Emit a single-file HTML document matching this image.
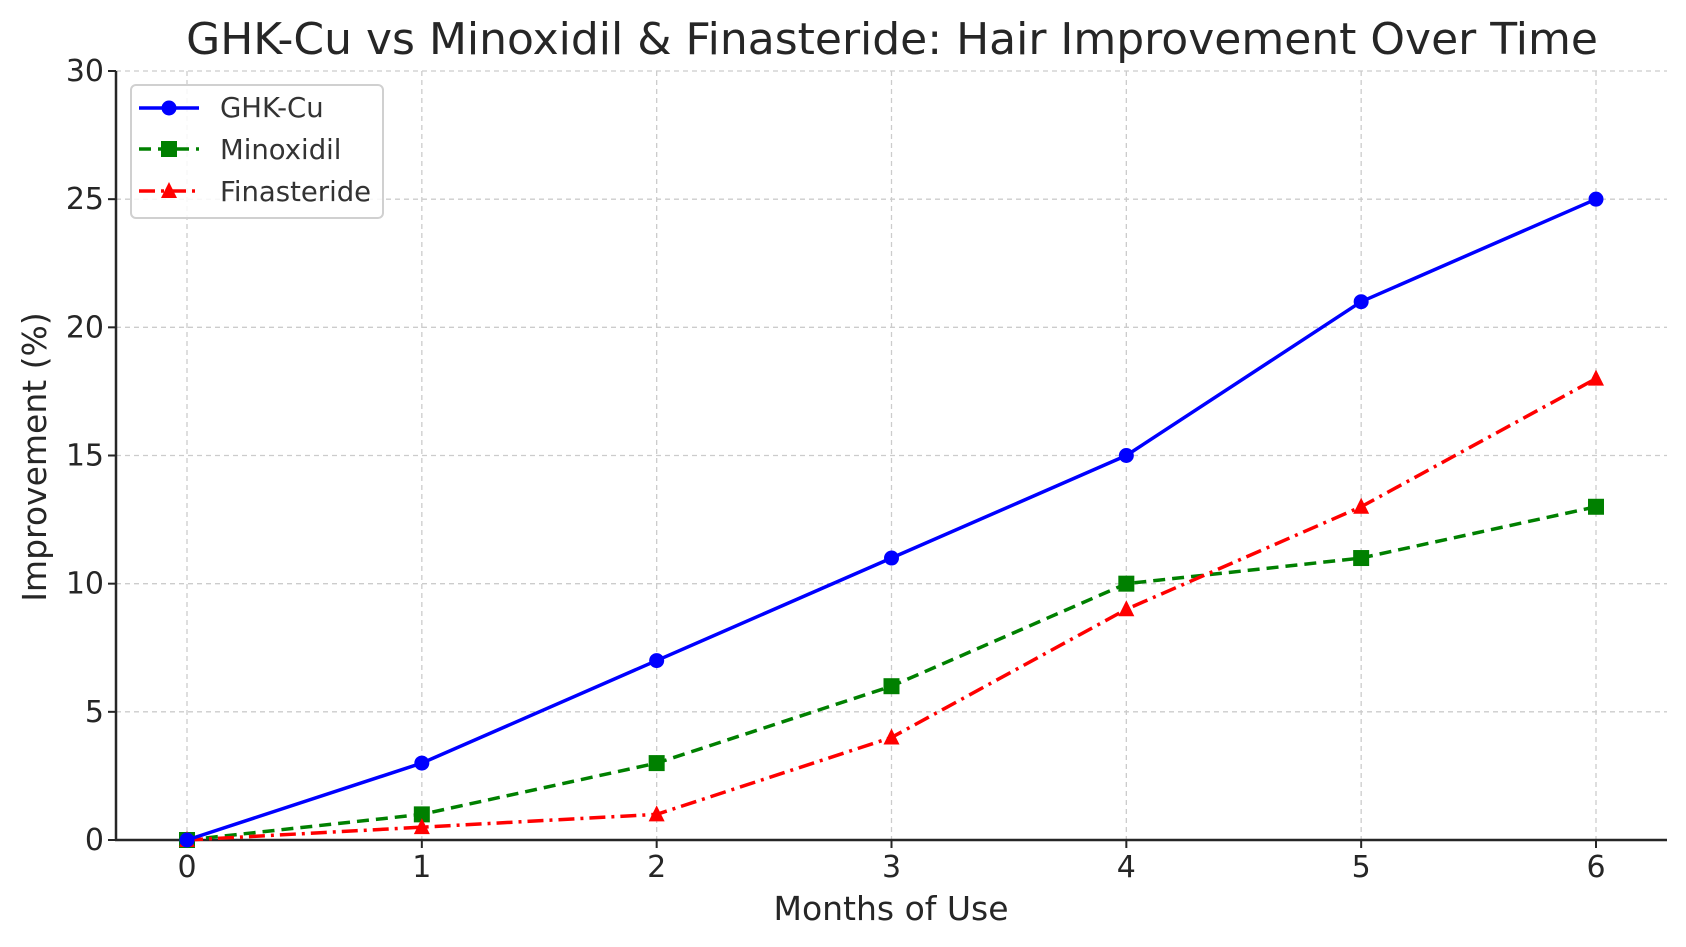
<!DOCTYPE html>
<html><head><meta charset="utf-8"><style>
html,body{margin:0;padding:0;background:#fff;}
svg{display:block;font-family:"DejaVu Sans","Liberation Sans",sans-serif;}
</style></head><body>
<svg id="chart" width="1686" height="947" viewBox="0 0 1686 947">
<text x="892" y="54" text-anchor="middle" font-size="44" fill="#262626">GHK-Cu vs Minoxidil &amp; Finasteride: Hair Improvement Over Time</text>
<g id="grid"></g>
<g id="axes"></g>
<g id="series"></g>
<text x="891" y="920" text-anchor="middle" font-size="33" fill="#262626">Months of Use</text>
<text transform="translate(46,457) rotate(-90)" text-anchor="middle" font-size="33" fill="#262626">Improvement (%)</text>
<g>
<rect x="131" y="85" width="252" height="133" rx="5" fill="#fff" fill-opacity="0.85" stroke="#d0d0d0" stroke-width="2"/>
<g>
<line x1="139" y1="108" x2="199" y2="108" stroke="#0000ff" stroke-width="3.5"/>
<circle cx="169" cy="108" r="7.5" fill="#0000ff"/>
<text x="220" y="117" font-size="27.5" fill="#333">GHK-Cu</text></g>
<g>
<line x1="139" y1="149" x2="199" y2="149" stroke="#008000" stroke-width="3.5" stroke-dasharray="12,7"/>
<rect x="161" y="141" width="16" height="16" fill="#008000"/>
<text x="220" y="159" font-size="27.5" fill="#333">Minoxidil</text></g>
<g>
<line x1="139" y1="191" x2="199" y2="191" stroke="#ff0000" stroke-width="3.5" stroke-dasharray="16,6,3,6"/>
<polygon points="169,182 177,198 161,198" fill="#ff0000"/>
<text x="220" y="201" font-size="27.5" fill="#333">Finasteride</text></g>
</g>
</svg>
<script>
const months = [0,1,2,3,4,5,6];
const ghkCu = [0,3,7,11,15,21,25];
const minoxidil = [0,1,3,6,10,11,13];
const finasteride = [0,0.5,1,4,9,13,18];
const xTicks = [0,1,2,3,4,5,6];
const yTicks = [0,5,10,15,20,25,30];

const NS = "http://www.w3.org/2000/svg";
const X0=187, X1=1596, Y0=840, Y1=71;
function xs(v){return X0+(v-0)*(X1-X0)/6;}
function ys(v){return Y0-(v-0)*(Y0-Y1)/30;}
function mk(tag, attrs, parent){const e=document.createElementNS(NS,tag);for(const k in attrs)e.setAttribute(k,attrs[k]);parent.appendChild(e);return e;}
const grid=document.getElementById('grid'), axes=document.getElementById('axes'), series=document.getElementById('series');
xTicks.forEach(t=>{
  const l=mk('line',{x1:xs(t),x2:xs(t),y1:Y1,y2:Y0,stroke:'#cccccc','stroke-width':1.3,'stroke-dasharray':'5,4'},grid);
  
  
  mk('line',{x1:xs(t),x2:xs(t),y1:Y0,y2:Y0+8,stroke:'#262626','stroke-width':2},axes);
  const tx=mk('text',{x:xs(t),y:Y0+37,'text-anchor':'middle','font-size':30,fill:'#262626'},axes);
  tx.textContent=t;
  
  
});
yTicks.forEach(t=>{
  const l=mk('line',{x1:116,x2:1667,y1:ys(t),y2:ys(t),stroke:'#cccccc','stroke-width':1.3,'stroke-dasharray':'5,4'},grid);
  
  
  mk('line',{x1:108,x2:116,y1:ys(t),y2:ys(t),stroke:'#262626','stroke-width':2},axes);
  const tx=mk('text',{x:104,y:ys(t)+10,'text-anchor':'end','font-size':30,fill:'#262626'},axes);
  tx.textContent=t;
  
  
});
const ly=mk('line',{x1:116,x2:116,y1:Y1,y2:Y0+1,stroke:'#262626','stroke-width':2.5},axes);


const lx=mk('line',{x1:115,x2:1667,y1:Y0,y2:Y0,stroke:'#262626','stroke-width':2.5},axes);



function drawSeries(vals,color,dash,marker,name){
  const g=mk('g',{},series);
  
  
  const pts=vals.map((v,i)=>xs(months[i])+','+ys(v)).join(' ');
  const attrs={points:pts,fill:'none',stroke:color,'stroke-width':3.5,'stroke-linejoin':'round'};
  if(dash)attrs['stroke-dasharray']=dash;
  mk('polyline',attrs,g);
  vals.forEach((v,i)=>{
    const x=xs(months[i]), y=ys(v); let m;
    if(marker==='circle') m=mk('circle',{cx:x,cy:y,r:7.5,fill:color},g);
    else if(marker==='square') m=mk('rect',{x:x-8,y:y-8,width:16,height:16,fill:color},g);
    else m=mk('polygon',{points:`${x},${y-9} ${x+8},${y+7} ${x-8},${y+7}`,fill:color},g);
    
    
  });
}
drawSeries(minoxidil,'#008000','12,7','square','minoxidil');
drawSeries(finasteride,'#ff0000','16,6,3,6','triangle','finasteride');
drawSeries(ghkCu,'#0000ff',null,'circle','ghk-cu');
</script>
</body></html>
